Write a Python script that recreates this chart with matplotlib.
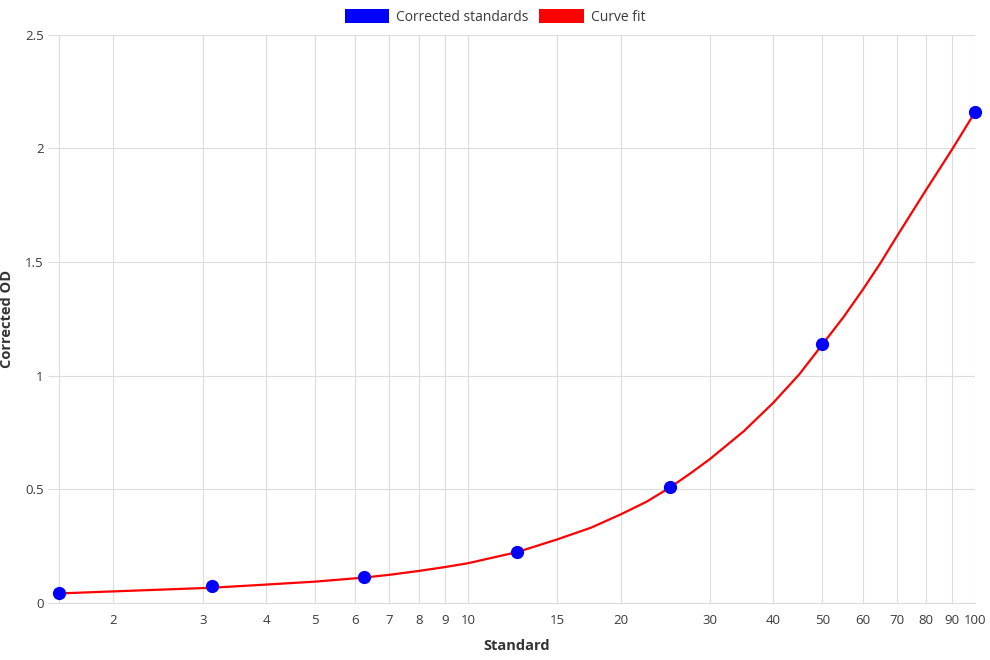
import matplotlib.pyplot as plt
from matplotlib.ticker import FixedLocator, NullLocator
from matplotlib.patches import Patch

# Standards (blue points)
std_x = [1.5625, 3.125, 6.25, 12.5, 25, 50, 100]
std_y = [0.040, 0.073, 0.111, 0.224, 0.507, 1.137, 2.161]

# Curve fit
fit_x = [1.5625, 2, 2.5, 3.125, 4, 5, 6.25, 7, 8, 9, 10, 12.5, 15, 17.5, 20, 22.5,
         25, 27.5, 30, 35, 40, 45, 50, 55, 60, 65, 70, 80, 90, 100]
fit_y = [0.040, 0.049, 0.057, 0.065, 0.079, 0.092, 0.110, 0.122, 0.139, 0.156, 0.173,
         0.222, 0.278, 0.330, 0.388, 0.444, 0.506, 0.570, 0.632, 0.755, 0.880, 1.005,
         1.137, 1.257, 1.377, 1.494, 1.611, 1.817, 1.995, 2.161]

x_ticks = [2, 3, 4, 5, 6, 7, 8, 9, 10, 15, 20, 30, 40, 50, 60, 70, 80, 90, 100]
y_ticks = [0, 0.5, 1, 1.5, 2, 2.5]
y_labels = ['0', '0.5', '1', '1.5', '2', '2.5']

plt.rcParams['font.family'] = ['Open Sans', 'DejaVu Sans']

fig = plt.figure(figsize=(9.9, 6.6), dpi=100)
ax = fig.add_axes([0.0596, 0.0871, 0.9254, 0.8599])

grid_c = '#dcdcdc'
ax.plot(fit_x, fit_y, color='#ff0000', linewidth=1.6, zorder=3)
ax.plot(std_x, std_y, 'o', color='#0000ff', markersize=8.5, zorder=4, clip_on=False)

ax.set_xscale('log')
ax.set_xlim(1.5625, 100)
ax.set_ylim(0, 2.5)
ax.xaxis.set_major_locator(FixedLocator(x_ticks))
ax.xaxis.set_minor_locator(NullLocator())
ax.set_xticklabels([str(t) for t in x_ticks])
ax.set_yticks(y_ticks)
ax.set_yticklabels(y_labels)

ax.grid(True, color=grid_c, linewidth=0.8)
for s in ['top', 'right']:
    ax.spines[s].set_visible(False)
for s in ['left', 'bottom']:
    ax.spines[s].set_color(grid_c)
ax.tick_params(axis='y', length=8, color=grid_c, labelsize=9.5, labelcolor='#3a3a3a', pad=3)
ax.tick_params(axis='x', length=0, labelsize=9.5, labelcolor='#3a3a3a', pad=8)
ax.set_axisbelow(True)

ax.set_xlabel('Standard', fontsize=10.5, fontweight='bold', color='#333333', labelpad=9)
ax.set_ylabel('Corrected OD', fontsize=10.5, fontweight='bold', color='#333333', labelpad=8)

handles = [Patch(facecolor='#0000ff', label='Corrected standards'),
           Patch(facecolor='#ff0000', label='Curve fit')]
fig.legend(handles=handles, loc='upper center', bbox_to_anchor=(0.5, 1.005), ncol=2,
           frameon=False, fontsize=10, handlelength=3.2, handleheight=1.1,
           handletextpad=0.5, columnspacing=0.8, labelcolor='#3a3a3a')

fig.savefig('out.png', dpi=100)
